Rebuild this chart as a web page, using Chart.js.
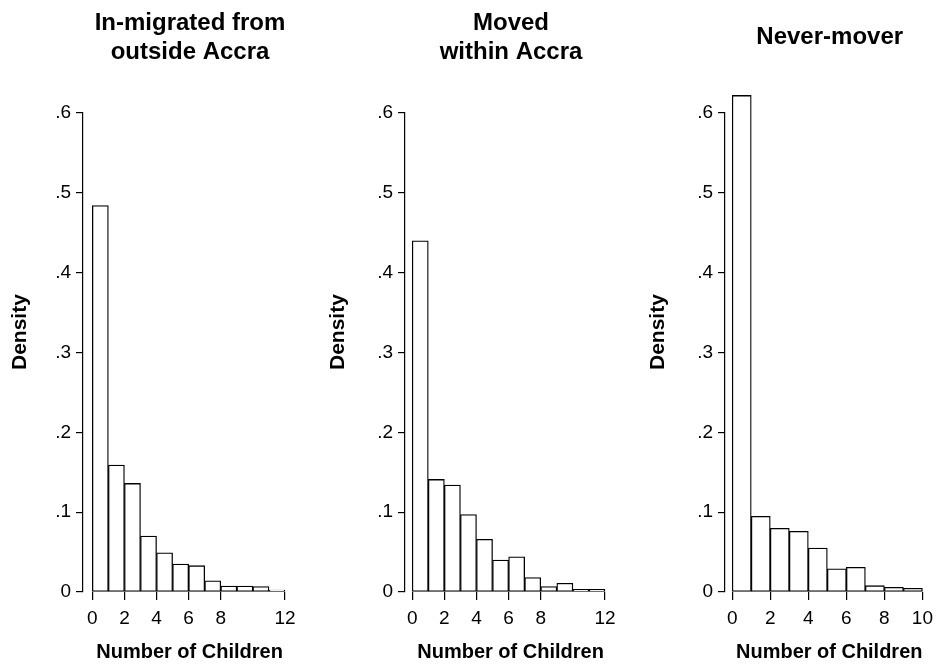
<!DOCTYPE html>
<html>
<head>
<meta charset="utf-8">
<script src="https://cdn.jsdelivr.net/npm/chart.js@4.4.0/dist/chart.umd.min.js"></script>
<style>
body { margin: 0; background: #fff; }
#wrap { position: relative; width: 940px; height: 666px; overflow: hidden; }
#wrap canvas { position: absolute; top: 0; }
</style>
</head>
<body>
<div id="wrap">
  <canvas id="c1" width="305" height="666" style="left:0px"></canvas>
  <canvas id="c2" width="307" height="666" style="left:318px"></canvas>
  <canvas id="c3" width="302" height="666" style="left:638px"></canvas>
</div>
<script>
// number of children, one bin per child count
var binsInMig = [0, 1, 2, 3, 4, 5, 6, 7, 8, 9, 10, 11];
var binsMoved = [0, 1, 2, 3, 4, 5, 6, 7, 8, 9, 10, 11];
var binsNever = [0, 1, 2, 3, 4, 5, 6, 7, 8, 9];

// density per bin
var inMigrated = [0.484, 0.159, 0.136, 0.070, 0.049, 0.035, 0.033, 0.014, 0.0075, 0.0075, 0.0067, 0.0025];
var movedWithin = [0.440, 0.141, 0.134, 0.097, 0.066, 0.040, 0.044, 0.018, 0.0067, 0.011, 0.0033, 0.0033];
var neverMover = [0.622, 0.0948, 0.0798, 0.076, 0.055, 0.029, 0.031, 0.0079, 0.0058, 0.0046];

var xTicks12 = [0, 2, 4, 6, 8, 12];
var xTicks10 = [0, 2, 4, 6, 8, 10];
var yTicks = [0, 0.1, 0.2, 0.3, 0.4, 0.5, 0.6];

var titles = [["In-migrated from", "outside Accra"], ["Moved", "within Accra"], ["Never-mover"]];
var yTitle = "Density";
var xTitle = "Number of Children";

Chart.defaults.font.family = "'Liberation Sans', Arial, sans-serif";
Chart.defaults.color = "#000";

var black = "#000";

// titles sit over the bars, not over the gap at the y axis
var nudgeTitle = {
    id: "nudgeTitle",
    afterLayout: function (chart) {
        var tb = chart.titleBlock;
        if (tb) {
            tb.left += 6;
            tb.right += 6;
        }
    }
};

function yLabel(v) {
    if (v === 0) return "0";
    return v.toFixed(1).replace(/^0/, "");
}

function makePanel(id, left, width, axisX, rightX, xMin, xMax, bins, vals, xTicks, title, titlePad) {
    var pts = [];
    for (var i = 0; i < bins.length; i++) {
        pts.push({ x: bins[i] + 0.5, y: vals[i] });
    }
    return new Chart(id, {
        type: "bar",
        data: {
            datasets: [{
                data: pts,
                backgroundColor: "#fff",
                borderColor: black,
                borderWidth: 1.3,
                borderSkipped: false,
                barPercentage: 1,
                categoryPercentage: 1,
                clip: false
            }]
        },
        plugins: [nudgeTitle],
        options: {
            responsive: false,
            animation: false,
            devicePixelRatio: 1,
            layout: { padding: { left: 0, right: left + width - rightX, top: 0, bottom: 0 } },
            plugins: {
                legend: { display: false },
                tooltip: { enabled: false },
                title: {
                    display: true,
                    fullSize: false,
                    text: title,
                    color: black,
                    font: { size: 24, weight: "bold", lineHeight: 29 / 24 },
                    padding: titlePad
                }
            },
            scales: {
                x: {
                    type: "linear",
                    offset: false,
                    min: xMin,
                    max: xMax,
                    afterBuildTicks: function (s) {
                        s.ticks = xTicks.map(function (v) { return { value: v }; });
                    },
                    afterFit: function (s) { s.height = 74; },
                    grid: { offset: false, drawOnChartArea: false, drawTicks: true, tickLength: 8, color: black, lineWidth: 1.2 },
                    border: { display: false },
                    ticks: {
                        autoSkip: false,
                        maxRotation: 0,
                        padding: 7,
                        font: { size: 19 },
                        callback: function (v) { return String(v); }
                    },
                    title: {
                        display: true,
                        text: "  " + xTitle,
                        font: { size: 20, weight: "bold", lineHeight: 1.2 },
                        padding: { top: 0, bottom: 2 }
                    }
                },
                y: {
                    min: 0,
                    max: 0.6,
                    afterBuildTicks: function (s) {
                        s.ticks = yTicks.map(function (v) { return { value: v }; });
                    },
                    afterFit: function (s) { s.width = axisX - left; },
                    grid: { drawOnChartArea: false, drawTicks: true, tickLength: 7, color: black, lineWidth: 1.2 },
                    border: { display: true, color: black, width: 1.2 },
                    ticks: {
                        padding: 5,
                        font: { size: 19 },
                        callback: function (v) { return yLabel(v); }
                    },
                    title: {
                        display: true,
                        text: "       " + yTitle,
                        font: { size: 21, weight: "bold", lineHeight: 1.2 },
                        padding: { top: 7.4, bottom: 0 }
                    }
                }
            }
        }
    });
}

makePanel("c1", 0, 305, 83, 285, -0.58, 12, binsInMig, inMigrated, xTicks12, titles[0], { top: 8.5, bottom: 46.5 });
makePanel("c2", 318, 307, 405, 605, -0.45, 12, binsMoved, movedWithin, xTicks12, titles[1], { top: 8.5, bottom: 46.5 });
makePanel("c3", 638, 302, 725, 925, -0.38, 10, binsNever, neverMover, xTicks10, titles[2], { top: 23, bottom: 61 });
</script>
</body>
</html>
